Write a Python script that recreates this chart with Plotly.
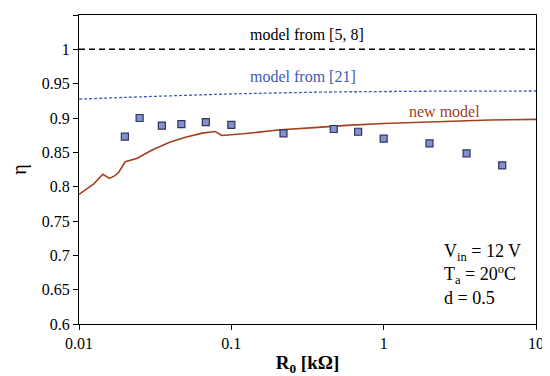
import math
import plotly.graph_objects as go

# Measured points
meas_R = [0.02, 0.025, 0.035, 0.047, 0.068, 0.1, 0.22, 0.47, 0.68, 1.0, 2.0, 3.5, 6.0]
meas_eta = [0.873, 0.900, 0.889, 0.891, 0.894, 0.890, 0.8775, 0.884, 0.880, 0.870, 0.863, 0.8485, 0.831]

# model from [5, 8]
m58_R = [0.01, 10]
m58_eta = [1.0, 1.0]

# model from [21]
m21_R = [0.01, 0.02, 0.05, 0.1, 0.2, 0.5, 1, 2, 5, 10]
m21_eta = [0.9275, 0.930, 0.933, 0.935, 0.9365, 0.938, 0.9385, 0.939, 0.9392, 0.9393]

# new model
new_R = [0.01, 0.0125, 0.01435, 0.01585, 0.0172, 0.0182, 0.0201, 0.0239, 0.030, 0.0393,
         0.050, 0.0643, 0.0783, 0.0866, 0.12, 0.211, 0.35, 0.569, 1.0, 2.51, 5.0, 10]
new_eta = [0.7887, 0.804, 0.818, 0.812, 0.816, 0.8206, 0.8363, 0.841, 0.853, 0.8647,
           0.872, 0.878, 0.8804, 0.8746, 0.877, 0.8828, 0.886, 0.8893, 0.892, 0.895, 0.897, 0.898]

yticks = [0.6, 0.65, 0.7, 0.75, 0.8, 0.85, 0.9, 0.95, 1.0, 1.05]
ytick_text = ["0.6", "0.65", "0.7", "0.75", "0.8", "0.85", "0.9", "0.95", "1", "1.05"]
xticks = [0.01, 0.1, 1, 10]
xtick_text = ["0.01", "0.1", "1", "10"]

FONT = "Liberation Serif, Times New Roman, serif"

fig = go.Figure()
fig.add_trace(go.Scatter(x=m58_R, y=m58_eta, mode="lines",
                         line=dict(color="black", width=1.5, dash="6px,4px"), showlegend=False))
fig.add_trace(go.Scatter(x=m21_R, y=m21_eta, mode="lines", line_shape="spline",
                         line=dict(color="#3d5db4", width=1.3, dash="3px,2px"), showlegend=False))
fig.add_trace(go.Scatter(x=new_R, y=new_eta, mode="lines",
                         line=dict(color="#a3401f", width=1.6), showlegend=False))
fig.add_trace(go.Scatter(x=meas_R, y=meas_eta, mode="markers",
                         marker=dict(symbol="square", size=7, color="#8392cc",
                                     line=dict(color="#283560", width=1.2)), showlegend=False))

lg = math.log10
fig.add_annotation(x=lg(0.315), y=1.0, xref="x", yref="y", yshift=15, text="model from [5, 8]",
                   showarrow=False, font=dict(family=FONT, size=16, color="black"))
fig.add_annotation(x=lg(0.295), y=0.9365, xref="x", yref="y", yshift=16, text="model from [21]",
                   showarrow=False, font=dict(family=FONT, size=16, color="#3d5db4"))
fig.add_annotation(x=lg(2.52), y=0.895, xref="x", yref="y", yshift=10, text="new model",
                   showarrow=False, font=dict(family=FONT, size=16, color="#a3401f"))
fig.add_annotation(x=lg(2.42), y=0.62, xref="x", yref="y", xanchor="left", yanchor="bottom",
                   align="left", showarrow=False,
                   text="V<sub>in</sub> = 12 V<br>T<sub>a</sub> = 20<sup>o</sup>C<br>d = 0.5",
                   font=dict(family=FONT, size=18, color="black"))

fig.update_xaxes(type="log", range=[-2, 1], tickvals=xticks, ticktext=xtick_text,
                 showline=True, linecolor="black", linewidth=1.2, mirror=True,
                 ticks="outside", ticklen=5, tickcolor="black", showgrid=False, zeroline=False,
                 tickfont=dict(family=FONT, size=16, color="black"),
                 title=dict(text="<b>R<sub>0</sub> [kΩ]</b>", font=dict(family=FONT, size=19, color="black"),
                            standoff=4))
fig.update_yaxes(range=[0.6, 1.05], tickvals=yticks, ticktext=ytick_text,
                 showline=True, linecolor="black", linewidth=1.2, mirror=True,
                 ticks="outside", ticklen=5, tickcolor="black", showgrid=False, zeroline=False,
                 tickfont=dict(family=FONT, size=16, color="black"),
                 title=dict(text="η", font=dict(family=FONT, size=20, color="black"), standoff=14))

# page body has an 8px margin, so the figure is 8px smaller and margins shifted
fig.update_layout(width=542, height=368, margin=dict(l=67, r=11, t=6, b=48),
                  plot_bgcolor="white", paper_bgcolor="white", showlegend=False)

fig.write_html("out.html")
